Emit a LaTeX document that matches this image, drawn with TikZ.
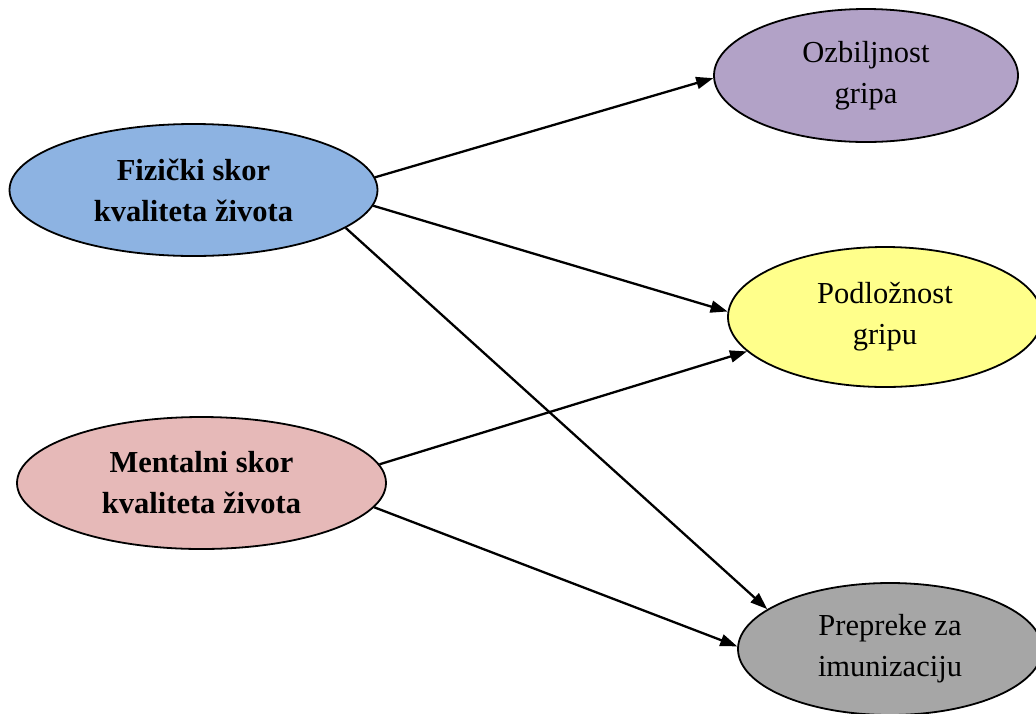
\documentclass[tikz,border=0pt]{standalone}
\usepackage{fontspec}
\setmainfont{Liberation Serif}
\usetikzlibrary{shapes.geometric,arrows.meta}

\definecolor{fizblue}{HTML}{8DB3E2}
\definecolor{mentpink}{HTML}{E6B9B8}
\definecolor{ozbpurple}{HTML}{B2A2C7}
\definecolor{podyellow}{HTML}{FFFF8B}
\definecolor{prepgray}{HTML}{A6A6A6}

\tikzset{
  oval/.style={ellipse, draw=black, line width=1.8pt, inner sep=0pt,
    align=center, font=\fontsize{30.5}{41}\selectfont},
  link/.style={line width=2.3pt, -{Triangle[length=17pt,width=12pt]}}
}

\begin{document}
\begin{tikzpicture}[x=1pt,y=-1pt]
  \useasboundingbox (0,0) rectangle (1036,713);
  \clip (0,0) rectangle (1036,713);

  % predictors
  \node[oval, fill=fizblue, minimum width=368pt, minimum height=132pt]
    (fiz) at (193.5,190) {\bfseries Fizički skor\\\bfseries kvaliteta života};
  \node[oval, fill=mentpink, minimum width=369pt, minimum height=132pt]
    (ment) at (201.5,483) {\bfseries Mentalni skor\\\bfseries kvaliteta života};

  % outcomes
  \node[oval, fill=ozbpurple, minimum width=304pt, minimum height=133pt]
    (ozb) at (866,75.5) {Ozbiljnost\\gripa};
  \node[oval, fill=podyellow, minimum width=314pt, minimum height=140pt]
    (pod) at (885,317) {Podložnost\\gripu};
  \node[oval, fill=prepgray, minimum width=304pt, minimum height=132pt]
    (prep) at (890,649) {Prepreke za\\imunizaciju};

  % paths
  \draw[link] (fiz.4.5) -- (ozb.181);
  \draw[link] (fiz.-5.4) -- (pod.178);
  \draw[link] (fiz.-14.7) -- (prep.162);
  \draw[link] (ment.6.8) -- (pod.194);
  \draw[link] (ment.-8) -- (prep.179.6);
\end{tikzpicture}
\end{document}
